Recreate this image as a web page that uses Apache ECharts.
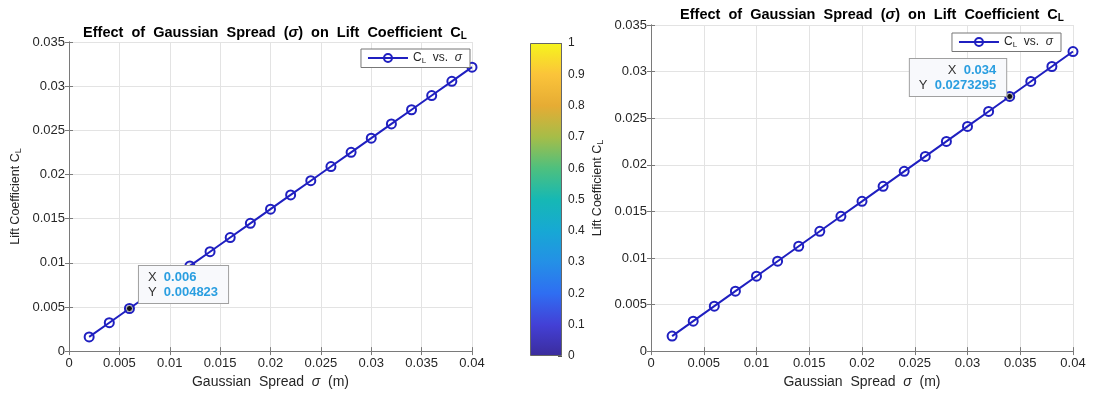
<!DOCTYPE html>
<html>
<head>
<meta charset="utf-8">
<script src="https://cdn.jsdelivr.net/npm/echarts@6/dist/echarts.min.js"></script>
<style>
html,body{margin:0;padding:0;background:#fff;}
#c{width:1109px;height:394px;}
</style>
</head>
<body>
<div id="c"></div>
<script>
// ---- data ----
const sigma = [0.002,0.004,0.006,0.008,0.010,0.012,0.014,0.016,0.018,0.020,0.022,0.024,0.026,0.028,0.030,0.032,0.034,0.036,0.038,0.040];
const cl = [0.001608,0.003215,0.004823,0.006431,0.008038,0.009646,0.011253,0.012861,0.014469,0.016076,0.017684,0.019292,0.020899,0.022507,0.024115,0.025722,0.0273295,0.028938,0.030545,0.032153];
const tipLeft = [0.006, 0.004823];
const tipRight = [0.034, 0.0273295];
const colorbarValue = [1];
const colorbarTicks = [0,0.1,0.2,0.3,0.4,0.5,0.6,0.7,0.8,0.9,1];
const parulaStops = [
  [0.0,'#3b2c9c'],[0.1,'#4340d6'],[0.2,'#2f6ef2'],[0.3,'#2490e6'],[0.4,'#17a8d4'],
  [0.5,'#16b8b4'],[0.6,'#4ec07e'],[0.7,'#a6bd48'],[0.8,'#e6ac34'],[0.9,'#fbc43a'],[1.0,'#f6f51c']
];

const FONT = 'Liberation Sans, Arial, sans-serif';
const LINE = '#1f1fc0';
const TXT = '#262626';

const chart = echarts.init(document.getElementById('c'), null, {renderer:'canvas'});

function titleText(){
  return '{b|Effect  of  Gaussian  Spread  (}{i|σ}{b|)  on  Lift  Coefficient  C}{s|L}';
}
const titleRich = {
  b:{fontFamily:FONT,fontWeight:'bold',fontSize:14.5,color:'#000'},
  i:{fontFamily:FONT,fontWeight:'bold',fontStyle:'italic',fontSize:14.5,color:'#000'},
  s:{fontFamily:FONT,fontWeight:'bold',fontSize:10,color:'#000',padding:[6,0,0,0]}
};

const grids = [
  {left:69, top:42, width:403, height:314},
  {left:651, top:25, width:422, height:331},
  {left:530, top:43, width:32, height:313}
];

function xAx(gi){
  return {
    type:'value', gridIndex:gi, min:0, max:0.04, interval:0.005,
    name:'{n|Gaussian  Spread  }{i|σ}{n|  (m)}', nameLocation:'middle', nameGap:23,
    nameTextStyle:{rich:{n:{fontFamily:FONT,fontSize:14,color:TXT},i:{fontFamily:FONT,fontSize:14,fontStyle:'italic',color:TXT}}},
    axisLine:{show:true,lineStyle:{color:'#7a7a7a',width:1}},
    axisTick:{show:true,inside:true,length:4,lineStyle:{color:'#7a7a7a'}},
    axisLabel:{fontFamily:FONT,fontSize:13,color:TXT,margin:6},
    splitLine:{show:true,lineStyle:{color:'#e3e3e3',width:1}}
  };
}
function yAx(gi){
  return {
    type:'value', gridIndex:gi, min:0, max:0.035, interval:0.005,
    name:'{n|Lift Coefficient C}{s|L}', nameLocation:'middle', nameGap:46,
    nameTextStyle:{rich:{n:{fontFamily:FONT,fontSize:12.5,color:TXT},s:{fontFamily:FONT,fontSize:9,color:TXT,padding:[6,0,0,0]}}},
    axisLine:{show:true,lineStyle:{color:'#7a7a7a',width:1}},
    axisTick:{show:true,inside:true,length:4,lineStyle:{color:'#7a7a7a'}},
    axisLabel:{fontFamily:FONT,fontSize:13,color:TXT,margin:4},
    splitLine:{show:true,lineStyle:{color:'#e3e3e3',width:1}}
  };
}
function xTop(gi){
  return {type:'value',gridIndex:gi,min:0,max:0.04,interval:0.005,position:'top',
    axisLine:{show:true,lineStyle:{color:'#7a7a7a'}},axisTick:{show:true,inside:true,length:4,lineStyle:{color:'#7a7a7a'}},
    axisLabel:{show:false},splitLine:{show:false}};
}
function yRight(gi){
  return {type:'value',gridIndex:gi,min:0,max:0.035,interval:0.005,position:'right',
    axisLine:{show:true,lineStyle:{color:'#7a7a7a'}},axisTick:{show:true,inside:true,length:4,lineStyle:{color:'#7a7a7a'}},
    axisLabel:{show:false},splitLine:{show:false}};
}

function lineSeries(xi, yi){
  return {
    name:'CL', type:'line', xAxisIndex:xi, yAxisIndex:yi,
    data: sigma.map((s,i)=>[s, cl[i]]),
    symbol:'circle', symbolSize:9, showAllSymbol:true,
    lineStyle:{color:LINE,width:2},
    itemStyle:{color:'rgba(255,255,255,0)',borderColor:LINE,borderWidth:2},
    emphasis:{disabled:true}, z:3
  };
}
const tipRich = {
  k:{fontFamily:FONT,fontSize:13,color:'#333',lineHeight:15},
  v:{fontFamily:FONT,fontSize:13,fontWeight:'bold',color:'#2a9ee0',lineHeight:15}
};
function tipSeries(xi, yi, pt, labelOpt){
  return {
    type:'scatter', xAxisIndex:xi, yAxisIndex:yi, data:[pt],
    symbol:'circle', symbolSize:6,
    itemStyle:{color:'#111',borderColor:'#bbb',borderWidth:1,opacity:1},
    z:10, silent:true,
    label:Object.assign({
      show:true,
      formatter: p => '{k|X  }{v|' + p.value[0] + '}\n{k|Y  }{v|' + p.value[1] + '}',
      rich:tipRich,
      backgroundColor:'#f8f9fc', borderColor:'#a0a0a0', borderWidth:1,
      padding:[4,10,3,9]
    }, labelOpt)
  };
}
const legendTextStyle = {rich:{
  n:{fontFamily:FONT,fontSize:12,color:TXT},
  s:{fontFamily:FONT,fontSize:8,color:TXT,padding:[5,0,0,0]},
  i:{fontFamily:FONT,fontSize:12,fontStyle:'italic',color:TXT}}};

const option = {
  backgroundColor:'#ffffff',
  animation:false,
  title:[
    {text:titleText(), left:270, top:20, textAlign:'center', textStyle:{rich:titleRich}},
    {text:titleText(), left:867, top:2, textAlign:'center', textStyle:{rich:titleRich}}
  ],
  legend:[
    {data:['CL'], right:1109-470, top:49, orient:'horizontal',
     itemWidth:40, itemHeight:10, itemGap:4,
     backgroundColor:'#fff', borderColor:'#777', borderWidth:1, padding:[3,8,3,6],
     formatter:()=>'{n|C}{s|L}{n|  vs.  }{i|σ}', textStyle:legendTextStyle},
    {data:['CL'], right:1109-1061, top:33, orient:'horizontal',
     itemWidth:40, itemHeight:10, itemGap:4,
     backgroundColor:'#fff', borderColor:'#777', borderWidth:1, padding:[3,8,3,6],
     formatter:()=>'{n|C}{s|L}{n|  vs.  }{i|σ}', textStyle:legendTextStyle}
  ],
  grid:grids.map(g=>Object.assign({containLabel:false},g)),
  xAxis:[
    xAx(0), xAx(1),
    {type:'category',gridIndex:2,data:['cb'],show:false},
    xTop(0), xTop(1)
  ],
  yAxis:[
    yAx(0), yAx(1),
    {type:'value',gridIndex:2,min:0,max:1,interval:0.1,position:'right',
     axisLine:{show:false},
     axisTick:{show:true,inside:true,length:4,lineStyle:{color:'#555'}},
     axisLabel:{fontFamily:FONT,fontSize:12,color:TXT,margin:6,
       formatter:v=>{const t=colorbarTicks.find(c=>Math.abs(c-v)<1e-9);return t===undefined?'':String(t);}},
     splitLine:{show:false}},
    yRight(0), yRight(1)
  ],
  series:[
    lineSeries(0,0),
    lineSeries(1,1),
    {type:'bar', xAxisIndex:2, yAxisIndex:2, data:colorbarValue, barWidth:'100%', silent:true,
     itemStyle:{borderColor:'#666',borderWidth:1,
       color:new echarts.graphic.LinearGradient(0,1,0,0, parulaStops.map(s=>({offset:s[0],color:s[1]})))},
     z:1},
    tipSeries(0,0,tipLeft,{position:[13,-2], align:'left', verticalAlign:'bottom'}),
    tipSeries(1,1,tipRight,{position:[0,3], align:'right', verticalAlign:'bottom'})
  ]
};
chart.setOption(option);
</script>
</body>
</html>
